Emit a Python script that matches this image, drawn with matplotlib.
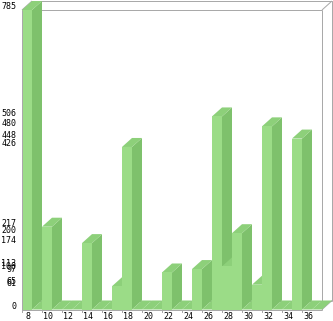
import matplotlib
matplotlib.use("Agg")
import matplotlib.pyplot as plt
from matplotlib.patches import Polygon
import matplotlib.transforms as mtransforms

# ---- data ----
categories = list(range(8, 38))
values = [785, 0, 217, 0, 0, 0, 174, 0, 0, 61,
          426, 0, 0, 0, 97, 0, 0, 106, 0, 506,
          113, 200, 0, 65, 480, 0, 0, 448, 0, 0]
xtick_labels = [str(c) for c in range(8, 37, 2)]
ytick_values = sorted(set(values))

# ---- style ----
FRONT = "#9bdc87"
SIDE = "#7ec16c"
TOP = "#8dd07a"
FRAME = "#a9a9a9"
W, H, DPI = 333, 321, 100

fig = plt.figure(figsize=(W / DPI, H / DPI), dpi=DPI)
ax = fig.add_axes([0, 0, 1, 1])
ax.axis("off")

# pixel mapping: category left edge 22px, 10px per category; 0 at 11.5px from bottom
x_left_px, cat_px = 22.0, 10.0
x0 = categories[0] - 0.5
ax.set_xlim(x0 - x_left_px / cat_px, x0 + (W - x_left_px) / cat_px)
ymax = max(values)
zero_px, top_px = 11.5, H - 10.0
s = (top_px - zero_px) / ymax
ax.set_ylim(-zero_px / s, (H - zero_px) / s)

# depth offsets in data units
dx = 10.0 / cat_px
dy = 9.0 / s

x1 = categories[-1] + 0.5
lw = 72.0 / DPI

def line(xs, ys, z):
    ax.plot(xs, ys, color=FRAME, lw=lw, zorder=z, solid_capstyle="butt")

# back / box frame
line([x0 + dx, x1 + dx, x1 + dx], [ymax + dy, ymax + dy, dy], 1)
line([x0 + dx, x1 + dx], [dy, dy], 1)
line([x0, x0 + dx], [ymax, ymax + dy], 1)
line([x1, x1 + dx], [ymax, ymax + dy], 1)
line([x1, x1 + dx], [0, dy], 1)
line([x0, x1], [ymax, ymax], 1)
line([x1, x1], [0, ymax], 1)

# bars
for c, v in zip(categories, values):
    l, r = c - 0.5, c + 0.5
    if v > 0:
        ax.add_patch(Polygon([(r, 0), (r + dx, dy), (r + dx, v + dy), (r, v)],
                             closed=True, facecolor=SIDE, edgecolor="none", zorder=2.0))
    ax.add_patch(Polygon([(l, v), (r, v), (r + dx, v + dy), (l + dx, v + dy)],
                         closed=True, facecolor=TOP, edgecolor="none", zorder=2.1))
ax.bar(categories, values, width=1.0, color=FRONT, edgecolor="none", zorder=2.2)

# front axes
line([x0, x0], [0, ymax], 3)
line([x0, x1], [0, 0], 3)

# x ticks + labels
tick_tr = mtransforms.blended_transform_factory(ax.transData, ax.transAxes)
for lab in xtick_labels:
    c = int(lab)
    ax.plot([c - 0.5, c - 0.5], [zero_px / H - 2.5 / H, zero_px / H], color=FRAME,
            lw=lw, transform=tick_tr, zorder=3)
    ax.text(c + 0.15, 4.5 / H, lab, transform=tick_tr, ha="center", va="center",
            fontsize=6, family="DejaVu Sans Mono", color="black")

# y labels
ylab_tr = mtransforms.offset_copy(
    mtransforms.blended_transform_factory(ax.transAxes, ax.transData),
    fig=fig, x=0, y=3, units="dots")
for v in ytick_values:
    ax.text(16.5 / W, v, str(v), transform=ylab_tr, ha="right", va="center",
            fontsize=6, family="DejaVu Sans Mono", color="black")

fig.savefig("out.png", dpi=DPI)
